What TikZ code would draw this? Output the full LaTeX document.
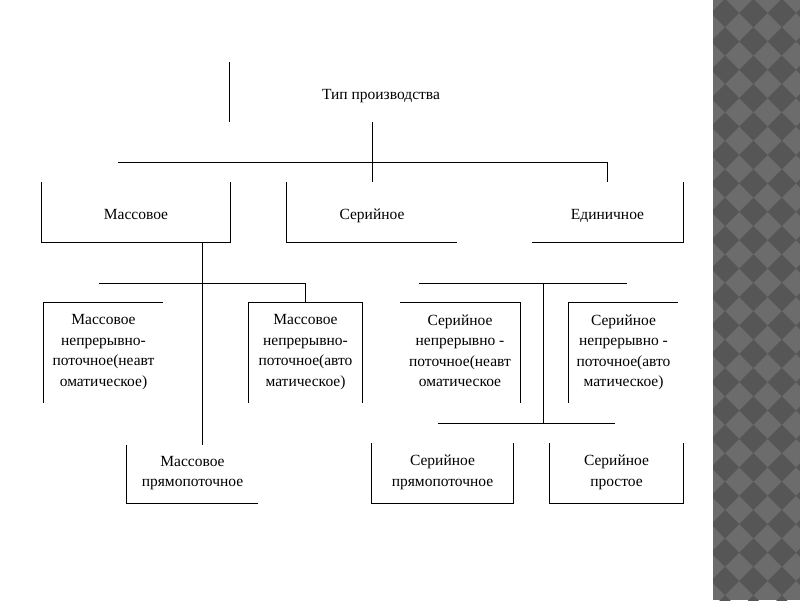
\documentclass[tikz,border=0pt]{standalone}
\usepackage{fontspec}
\setmainfont{Liberation Serif}
\usepackage{xcolor}
\usepackage{tikz}
\usetikzlibrary{positioning}
\definecolor{stripdark}{RGB}{86,86,86}
\definecolor{striplight}{RGB}{108,108,108}
\newcommand{\boxstrut}{\rule[-5pt]{0pt}{24pt}}
\tikzstyle{kind} = [rectangle, inner sep=0pt, align=center, font=\fontsize{15.5}{20.5}\selectfont,
	execute at begin node=\boxstrut, execute at end node=\boxstrut]
\tikzstyle{edge} = [line width=1pt, black]
\tikzstyle{diamondtile} = [fill=stripdark]

\begin{document}
\begin{tikzpicture}[x=1pt, y=-1pt]
\useasboundingbox (0,0) rectangle (800,600);
\fill[white] (0,0) rectangle (800,600);
\fill[striplight] (713,0) rectangle (800,600);
\begin{scope}
\clip (713,0) rectangle (800,600);
\foreach \i in {0,...,3}
	\foreach \j in {-1,...,21}
		\fill[diamondtile] (725+28.4*\i, 13+28.4*\j) +(-14.2,0) -- +(0,-14.2) -- +(14.2,0) -- +(0,14.2) -- cycle;
\end{scope}

\node [kind, minimum width=302pt, minimum height=60pt] (type) at (381,92) {Тип производства};
\node [kind, minimum width=188pt, minimum height=60pt] (mass) at (136,212) {Массовое};
\node [kind, minimum width=170pt, minimum height=60pt] (serial) at (372,212) {Серийное};
\node [kind, minimum width=151pt, minimum height=60pt] (unit) at (607.5,212) {Единичное};

\node [kind, minimum width=119pt, minimum height=100pt] (mneavt) at (103.5,353)
	{Массовое\\непрерывно-\\поточное(неавт\\оматическое)};
\node [kind, minimum width=113pt, minimum height=100pt] (mauto) at (305.5,353)
	{Массовое\\непрерывно-\\поточное(авто\\матическое)};
\node [kind, minimum width=120pt, minimum height=100pt] (sneavt) at (460,353)
	{Серийное\\непрерывно -\\поточное(неавт\\оматическое};
\node [kind, minimum width=109pt, minimum height=100pt] (sauto) at (623.5,353)
	{Серийное\\непрерывно -\\поточное(авто\\матическое)};

\node [kind, minimum width=131pt, minimum height=58pt] (mstraight) at (192.5,474) {Массовое\\прямопоточное};
\node [kind, minimum width=141pt, minimum height=60pt] (sstraight) at (442.5,473) {Серийное\\прямопоточное};
\node [kind, minimum width=133pt, minimum height=60pt] (ssimple) at (616.5,473) {Серийное\\простое};

\coordinate (busl) at (118,162);
\coordinate (mbusl) at (99,283);
\coordinate (sbusl) at (419,283);
\coordinate (sbusr) at (627,283);
\coordinate (shub) at (543,283);
\coordinate (sbusl2) at (438,423);
\coordinate (sbusr2) at (615,423);

\draw [edge] (type.north west) -- (type.south west);
\draw [edge] (serial.north) -- (serial.north |- type.south);
\draw [edge] (busl) -- (busl -| unit.north) -- (unit.north);

\draw [edge] (mass.north west) -- (mass.south west) -- (mass.south east) -- (mass.north east);
\draw [edge] (serial.north west) -- (serial.south west) -- (serial.south east);
\draw [edge] (unit.south west) -- (unit.south east) -- (unit.north east);

\draw [edge] ([xshift=66pt]mass.south) -- ([xshift=66pt]mass.south |- mstraight.north);
\draw [edge] (mbusl) -- (mbusl -| mauto.north) -- (mauto.north);
\draw [edge] (sbusl) -- (sbusr);
\draw [edge] (shub) -- (shub |- sbusl2);
\draw [edge] (sbusl2) -- (sbusr2);

\draw [edge] (mneavt.south west) -- (mneavt.north west) -- (mneavt.north east);
\draw [edge] (mauto.south west) -- (mauto.north west) -- (mauto.north east) -- (mauto.south east);
\draw [edge] (sneavt.north west) -- (sneavt.north east) -- (sneavt.south east);
\draw [edge] (sauto.north east) -- (sauto.north west) -- (sauto.south west);

\draw [edge] (mstraight.north west) -- (mstraight.south west) -- (mstraight.south east);
\draw [edge] (sstraight.north west) -- (sstraight.south west) -- (sstraight.south east) -- (sstraight.north east);
\draw [edge] (ssimple.north west) -- (ssimple.south west) -- (ssimple.south east) -- (ssimple.north east);
\end{tikzpicture}
\end{document}
